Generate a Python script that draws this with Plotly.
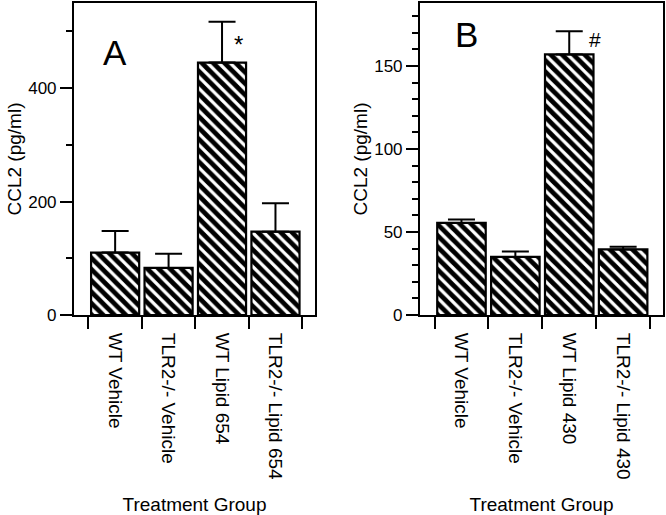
import plotly.graph_objects as go

# ---- data ----
positions = [0, 1, 2, 3]
group_edges = [-0.5, 0.5, 1.5, 2.5, 3.5]

labels_a = ["WT Vehicle", "TLR2-/- Vehicle", "WT Lipid 654", "TLR2-/- Lipid 654"]
ccl2_a = [110, 83, 445, 147]
err_a = [38, 25, 72, 50]

labels_b = ["WT Vehicle", "TLR2-/- Vehicle", "WT Lipid 430", "TLR2-/- Lipid 430"]
ccl2_b = [55.5, 35, 157, 39.5]
err_b = [2, 3.3, 14, 1.6]

FONT = "Liberation Sans, Arial, sans-serif"


def bar_trace(y, err, xa, ya):
    return go.Bar(
        x=positions, y=y, width=0.9, xaxis=xa, yaxis=ya, showlegend=False,
        marker=dict(color="white", line=dict(color="black", width=2.2),
                    pattern=dict(shape="\\", fgcolor="black", bgcolor="white",
                                 fgopacity=1, size=8, solidity=0.6)),
        error_y=dict(type="data", array=err, arrayminus=[0] * len(err),
                     symmetric=False, color="black", thickness=2, width=13.5),
    )


fig = go.Figure()
fig.add_trace(bar_trace(ccl2_a, err_a, "x", "y"))
fig.add_trace(bar_trace(ccl2_b, err_b, "x2", "y2"))


def xaxis_cfg(domain, labels, anchor):
    return dict(
        domain=domain, anchor=anchor, range=[-0.77, 3.74], automargin=False,
        tickmode="array", tickvals=positions, ticktext=labels, tickangle=90,
        ticks="", tickfont=dict(size=19, color="black", family=FONT),
        ticklabelstandoff=12,
        minor=dict(tickmode="array", tickvals=group_edges, ticks="outside",
                   ticklen=12, tickwidth=2, tickcolor="black"),
        showline=True, mirror=True, linecolor="black", linewidth=2,
        showgrid=False, zeroline=False,
        title=dict(text="Treatment Group", font=dict(size=19, color="black", family=FONT),
                   standoff=22),
    )


def yaxis_cfg(domain, rng, dtick, minor_dtick, anchor):
    return dict(
        domain=domain, anchor=anchor, range=rng, automargin=False,
        tick0=0, dtick=dtick, ticks="outside", ticklen=12, tickwidth=2,
        tickcolor="black", tickfont=dict(size=17, color="black", family=FONT),
        minor=dict(tick0=0, dtick=minor_dtick, ticks="outside", ticklen=6,
                   tickwidth=2, tickcolor="black"),
        showline=True, mirror=True, linecolor="black", linewidth=2,
        showgrid=False, zeroline=False,
        title=dict(text="CCL2 (pg/ml)", font=dict(size=19, color="black", family=FONT),
                   standoff=2),
    )


fig.update_layout(
    width=666, height=515,
    margin=dict(l=0, r=0, t=0, b=0, autoexpand=False),
    paper_bgcolor="white", plot_bgcolor="white",
    font=dict(family=FONT, color="black"),
    bargap=0.1,
    xaxis=xaxis_cfg([0.1111, 0.4730], labels_a, "y"),
    yaxis=yaxis_cfg([0.3883, 0.9942], [0, 550], 200, 100, "x"),
    xaxis2=xaxis_cfg([0.6306, 0.9955], labels_b, "y2"),
    yaxis2=yaxis_cfg([0.3883, 0.9942], [0, 188], 50, 10, "x2"),
    annotations=[
        dict(text="A", x=0.0, y=462, xref="x", yref="y", showarrow=False,
             font=dict(size=35, color="black", family=FONT)),
        dict(text="*", x=2.30, y=476, xref="x", yref="y", showarrow=False,
             font=dict(size=24, color="black", family=FONT)),
        dict(text="B", x=0.1, y=169, xref="x2", yref="y2", showarrow=False,
             font=dict(size=35, color="black", family=FONT)),
        dict(text="#", x=2.48, y=166, xref="x2", yref="y2", showarrow=False,
             font=dict(size=21, color="black", family=FONT)),
    ],
)

fig.write_html("out.html", config={"displayModeBar": False},
               post_script="document.body.style.margin='0';document.body.style.overflow='hidden';")
